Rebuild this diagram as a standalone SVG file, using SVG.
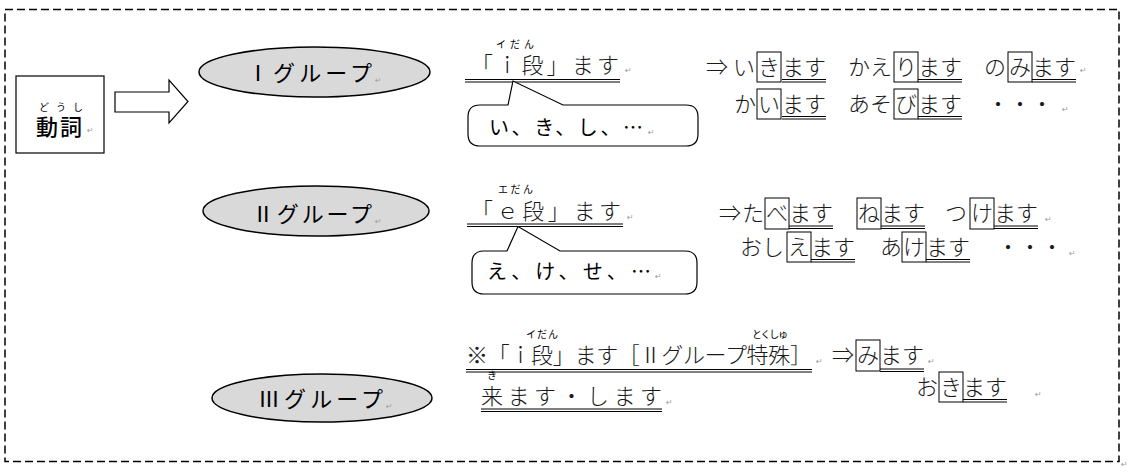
<svg xmlns="http://www.w3.org/2000/svg" width="1129" height="472" viewBox="0 0 1129 472">
<style>
.m{font-family:'Noto Sans CJK JP','Noto Sans CJK SC',sans-serif;font-size:22px;fill:#1a1a1a;font-weight:300}
.g{font-family:'Noto Sans CJK JP','Noto Sans CJK SC',sans-serif;font-size:22px;fill:#000}
.c{font-family:'Noto Sans CJK JP','Noto Sans CJK SC',sans-serif;font-size:20px;fill:#000}
.f{font-family:'Noto Sans CJK JP','Noto Sans CJK SC',sans-serif;font-size:10px;fill:#000}
.p{font-family:'DejaVu Sans',sans-serif;font-size:8px;fill:#999}
.bx{fill:none;stroke:#000;stroke-width:1}
.ul{fill:none;stroke:#000;stroke-width:1}
.el{fill:#d9d9d9;stroke:#000;stroke-width:1.5}
.co{fill:#fff;stroke:#000;stroke-width:1.2}
</style>
<rect x="5" y="9.5" width="1114" height="452" fill="none" stroke="#000" stroke-width="1.5" stroke-dasharray="8 4"/>
<text class="p" x="1121" y="467">↵</text>

<g id="verb">
<rect x="16" y="76" width="88" height="77" fill="#fff" stroke="#000" stroke-width="1.2"/>
<text class="f" x="39" y="111" font-size="11" textLength="44">どうし</text>
<text class="g" x="36" y="135" font-weight="500" textLength="46">動詞</text>
<text class="p" x="87" y="133">↵</text>
</g>

<g id="connectors">
<polygon points="115,92 169,92 169,80 188,101.5 169,123 169,112 115,112" fill="#fff" stroke="#000" stroke-width="1.2"/>
</g>

<g id="group1">
<ellipse class="el" cx="314.5" cy="72" rx="115.5" ry="25"/>
<text class="g" x="247" y="81" textLength="125">Ⅰグループ</text>
<text class="p" x="375" y="83">↵</text>
</g>
<g id="group2">
<ellipse class="el" cx="316" cy="211" rx="113" ry="25"/>
<text class="g" x="252" y="222" textLength="120">Ⅱグループ</text>
<text class="p" x="375" y="224">↵</text>
</g>
<g id="group3">
<ellipse class="el" cx="322" cy="398" rx="110" ry="24"/>
<text class="g" x="258" y="407" textLength="125">Ⅲグループ</text>
<text class="p" x="386" y="409">↵</text>
</g>

<g id="rule1">
<text class="f" x="496" y="48" textLength="38">イだん</text>
<text class="m" x="471" y="73" textLength="148">「ｉ段」ます</text>
<path class="ul" d="M465 79.5H620M465 82H620"/>
<text class="p" x="625" y="73">↵</text>
</g>
<g id="callout1">
<path class="co" d="M480 105H508L513 81L563 105H686Q698 105 698 117V134Q698 146 686 146H480Q468 146 468 134V117Q468 105 480 105Z"/>
<text class="c" x="489" y="135" textLength="154">い、き、し、…</text>
<text class="p" x="648" y="135">↵</text>
</g>

<g id="examples1">
<text class="m" x="706" y="75">⇒</text>
<text class="m" x="733" y="75">い</text>
<rect class="bx" x="757" y="52" width="24" height="30"/>
<text class="m" x="758" y="75">き</text>
<text class="m" x="782" y="75">ます</text>
<path class="ul" d="M782 79.5H826M782 82H826"/>
<text class="m" x="848" y="75">かえ</text>
<rect class="bx" x="894" y="52" width="24" height="30"/>
<text class="m" x="895" y="75">り</text>
<text class="m" x="918" y="75">ます</text>
<path class="ul" d="M918 79.5H962M918 82H962"/>
<text class="m" x="984" y="75">の</text>
<rect class="bx" x="1008" y="52" width="24" height="30"/>
<text class="m" x="1009" y="75">み</text>
<text class="m" x="1032" y="75">ます</text>
<path class="ul" d="M1032 79.5H1076M1032 82H1076"/>
<text class="p" x="1080" y="73">↵</text>

<text class="m" x="734" y="112">か</text>
<rect class="bx" x="757" y="89" width="24" height="30"/>
<text class="m" x="758" y="112">い</text>
<text class="m" x="782" y="112">ます</text>
<path class="ul" d="M782 116.5H826M782 119H826"/>
<text class="m" x="848" y="112">あそ</text>
<rect class="bx" x="894" y="89" width="24" height="30"/>
<text class="m" x="895" y="112">び</text>
<text class="m" x="918" y="112">ます</text>
<path class="ul" d="M918 116.5H962M918 119H962"/>
<text class="m" x="987" y="112" textLength="66">・・・</text>
<text class="p" x="1062" y="112">↵</text>
</g>

<g id="rule2">
<text class="f" x="498" y="193" textLength="35">エだん</text>
<text class="m" x="471" y="219" textLength="150">「ｅ段」ます</text>
<path class="ul" d="M467 224H623M467 226.5H623"/>
<text class="p" x="627" y="220">↵</text>
</g>
<g id="callout2">
<path class="co" d="M484 251H507L518 226.5L560 251H685Q697 251 697 263V282Q697 294 685 294H484Q472 294 472 282V263Q472 251 484 251Z"/>
<text class="c" x="487" y="279" textLength="164">え、け、せ、…</text>
<text class="p" x="655" y="279">↵</text>
</g>

<g id="examples2">
<text class="m" x="719" y="221">⇒</text>
<text class="m" x="742" y="221">た</text>
<rect class="bx" x="765" y="198" width="24" height="31"/>
<text class="m" x="766" y="221">べ</text>
<text class="m" x="789" y="221">ます</text>
<path class="ul" d="M789 226H833M789 228.5H833"/>
<rect class="bx" x="857" y="198" width="24" height="31"/>
<text class="m" x="858" y="221">ね</text>
<text class="m" x="881" y="221">ます</text>
<path class="ul" d="M881 226H925M881 228.5H925"/>
<text class="m" x="945" y="221">つ</text>
<rect class="bx" x="970" y="198" width="24" height="31"/>
<text class="m" x="971" y="221">け</text>
<text class="m" x="994" y="221">ます</text>
<path class="ul" d="M994 226H1038M994 228.5H1038"/>
<text class="p" x="1045" y="222">↵</text>

<text class="m" x="740" y="255">おし</text>
<rect class="bx" x="787" y="232" width="24" height="30"/>
<text class="m" x="788" y="255">え</text>
<text class="m" x="811" y="255">ます</text>
<path class="ul" d="M811 259.5H855M811 262H855"/>
<text class="m" x="880" y="255">あ</text>
<rect class="bx" x="902" y="232" width="24" height="30"/>
<text class="m" x="903" y="255">け</text>
<text class="m" x="926" y="255">ます</text>
<path class="ul" d="M926 259.5H970M926 262H970"/>
<text class="m" x="997" y="255" textLength="66">・・・</text>
<text class="p" x="1069" y="256">↵</text>
</g>

<g id="special">
<text class="f" x="542" y="338" text-anchor="middle" textLength="32">イだん</text>
<text class="f" x="770" y="338" text-anchor="middle" textLength="36">とくしゅ</text>
<text class="m" x="466" y="363" textLength="346">※「ｉ段」ます［Ⅱグループ特殊］</text>
<path class="ul" d="M466 369.5H812M466 372H812"/>
<text class="p" x="816" y="364">↵</text>
<text class="m" x="832" y="363">⇒</text>
<rect class="bx" x="856" y="340" width="24" height="31"/>
<text class="m" x="857" y="363">み</text>
<text class="m" x="880" y="363">ます</text>
<path class="ul" d="M880 369H924M880 371.5H924"/>
<text class="p" x="928" y="364">↵</text>
<text class="m" x="916" y="395">お</text>
<rect class="bx" x="939" y="372" width="24" height="30"/>
<text class="m" x="940" y="395">き</text>
<text class="m" x="963" y="395">ます</text>
<path class="ul" d="M963 399.5H1007M963 402H1007"/>
<text class="p" x="1035" y="397">↵</text>
</g>

<g id="rule3">
<text class="f" x="487" y="379">き</text>
<text class="m" x="481" y="404" textLength="181">来ます・します</text>
<path class="ul" d="M481 409H662M481 411.5H662"/>
<text class="p" x="666" y="405">↵</text>
</g>
</svg>
